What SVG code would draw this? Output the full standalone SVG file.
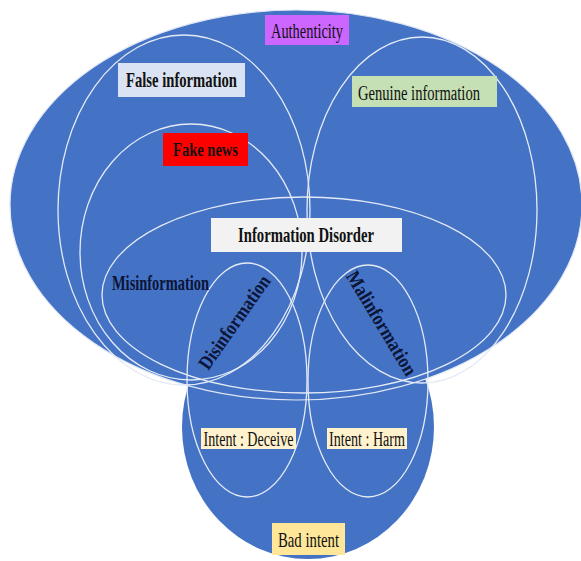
<svg xmlns="http://www.w3.org/2000/svg" width="581" height="561" viewBox="0 0 581 561">
  <style>
    .region { fill: #4472c4; }
    .ring { fill: none; stroke: #e4ebf7; stroke-width: 1.3; }
    .lbl { font-family: "Liberation Serif", "Times New Roman", serif; fill: #111; text-anchor: middle; }
    .b { font-weight: bold; }
    .dark { fill: #0b1538; font-weight: bold; }
  </style>
  <rect width="581" height="561" fill="#ffffff"/>

  <g id="bad-intent">
    <ellipse class="region" cx="308" cy="427" rx="126" ry="132"/>
  </g>
  <g id="authenticity">
    <ellipse class="region" cx="296" cy="205" rx="286" ry="195" stroke="#dfe7f5" stroke-width="1.2"/>
  </g>
  <g id="false-information">
    <ellipse class="ring" cx="184" cy="210" rx="126" ry="175"/>
  </g>
  <g id="genuine-information">
    <ellipse class="ring" cx="422" cy="210" rx="115" ry="173"/>
  </g>
  <g id="fake-news">
    <ellipse class="ring" cx="191" cy="252" rx="111" ry="128"/>
  </g>
  <g id="information-disorder">
    <ellipse class="ring" cx="304" cy="295" rx="202" ry="98"/>
  </g>
  <g id="disinformation">
    <ellipse class="ring" cx="247" cy="380" rx="60" ry="117"/>
  </g>
  <g id="malinformation">
    <ellipse class="ring" cx="368" cy="381" rx="60" ry="116"/>
  </g>

  <g id="connectors"/>

  <g id="labels">
    <g id="label-authenticity">
      <rect x="265" y="15" width="84" height="30" fill="#cc66ff"/>
      <text class="lbl" x="307" y="38" font-size="20" textLength="72" lengthAdjust="spacingAndGlyphs">Authenticity</text>
    </g>
    <g id="label-false-information">
      <rect x="118" y="63" width="127" height="34" fill="#dae3f3"/>
      <text class="lbl b" x="181.5" y="87" font-size="21" textLength="111" lengthAdjust="spacingAndGlyphs">False information</text>
    </g>
    <g id="label-genuine-information">
      <rect x="352" y="76" width="145" height="31" fill="#c5e0b4"/>
      <text class="lbl" x="419" y="100" font-size="20" textLength="122" lengthAdjust="spacingAndGlyphs">Genuine information</text>
    </g>
    <g id="label-fake-news">
      <rect x="163" y="133" width="85" height="33" fill="#ff0000"/>
      <text class="lbl b" x="205.5" y="156" font-size="18" textLength="65" lengthAdjust="spacingAndGlyphs">Fake news</text>
    </g>
    <g id="label-information-disorder">
      <rect x="211" y="218" width="191" height="34" fill="#f2f2f2"/>
      <text class="lbl b" x="306" y="242" font-size="21" textLength="136" lengthAdjust="spacingAndGlyphs">Information Disorder</text>
    </g>
    <g id="label-misinformation">
      <text class="lbl dark" x="160.5" y="290" font-size="21" textLength="97" lengthAdjust="spacingAndGlyphs">Misinformation</text>
    </g>
    <g id="label-disinformation" transform="translate(234,322) rotate(-55)">
      <text class="lbl dark" x="0" y="7" font-size="20" textLength="110" lengthAdjust="spacingAndGlyphs">Disinformation</text>
    </g>
    <g id="label-malinformation" transform="translate(382,323) rotate(59)">
      <text class="lbl dark" x="0" y="7" font-size="20" textLength="118" lengthAdjust="spacingAndGlyphs">Malinformation</text>
    </g>
    <g id="label-intent-deceive">
      <rect x="201" y="428" width="95" height="21" fill="#fff2cc"/>
      <text class="lbl" x="248.5" y="446" font-size="20" textLength="90" lengthAdjust="spacingAndGlyphs">Intent : Deceive</text>
    </g>
    <g id="label-intent-harm">
      <rect x="327" y="428" width="80" height="21" fill="#fff2cc"/>
      <text class="lbl" x="367" y="446" font-size="20" textLength="76" lengthAdjust="spacingAndGlyphs">Intent : Harm</text>
    </g>
    <g id="label-bad-intent">
      <rect x="272" y="523" width="73" height="32" fill="#ffe699"/>
      <text class="lbl" x="308.5" y="547" font-size="21" textLength="61" lengthAdjust="spacingAndGlyphs">Bad intent</text>
    </g>
  </g>
</svg>
